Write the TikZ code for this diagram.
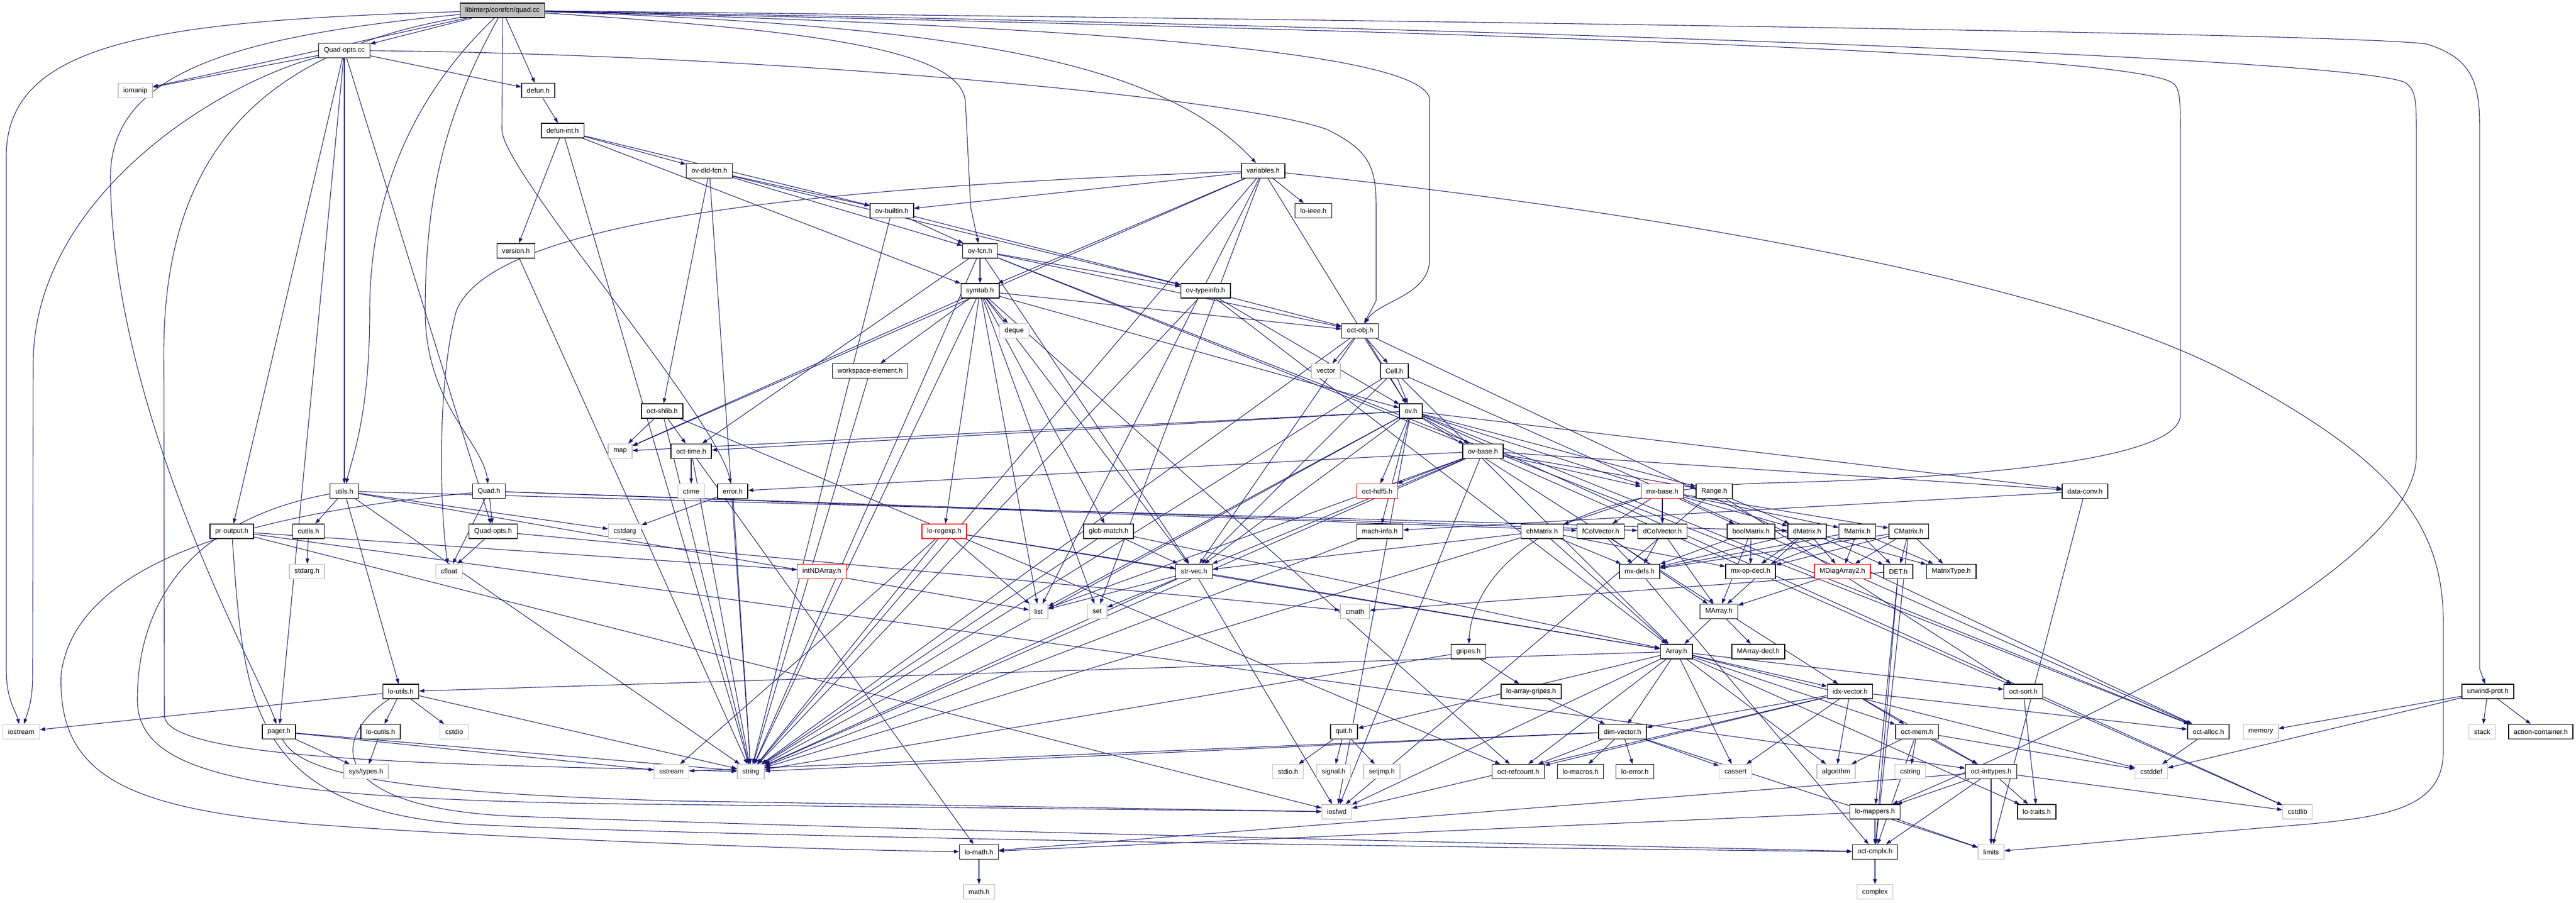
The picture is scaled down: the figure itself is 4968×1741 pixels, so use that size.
\documentclass[tikz,border=0pt]{standalone}
\usepackage{fontspec}
\setmainfont{Liberation Sans}
\usetikzlibrary{arrows.meta}
\definecolor{edgec}{HTML}{191970}
\definecolor{sysgray}{HTML}{BFBFBF}
\pgfdeclarelayer{back}
\pgfdeclarelayer{bg}
\pgfsetlayers{back,bg,main}
\newcommand\myedges[2]{\foreach \tgt in {#2}{\draw[e] (#1) -- (\tgt);}}
\tikzset{
  nd/.style={draw=black, line width=1.4pt, fill=white, minimum height=28pt, inner xsep=10pt, inner ysep=0pt, font=\fontsize{13.2pt}{15pt}\selectfont},
  sys/.style={nd, draw=sysgray},
  rnd/.style={nd, draw=red},
  rootnd/.style={nd, fill=sysgray},
  e/.style={draw=edgec, line width=1.1pt, -{Triangle[length=10pt,width=7pt]}}
}
\begin{document}
\begin{tikzpicture}[x=1pt,y=-1pt]
\useasboundingbox (0,0) rectangle (4968,1741);
\begin{pgfonlayer}{back}
\fill[white] (0,0) rectangle (4968,1741);
\end{pgfonlayer}
% row 0-11
\node[rootnd] (quad) at (969,20) {libinterp/corefcn/quad.cc};
\node[nd] (qoptscc) at (664,97.3) {Quad-opts.cc};
\node[sys] (iomanip) at (261,174.6) {iomanip};
\node[nd] (defun) at (1038,174.6) {defun.h};
\node[nd] (defunint) at (1085,251.9) {defun-int.h};
\node[nd] (ovdld) at (1368,329.2) {ov-dld-fcn.h};
\node[nd] (variables) at (2436,329.2) {variables.h};
\node[nd] (ovbuiltin) at (1720,406.5) {ov-builtin.h};
\node[nd] (loieee) at (2533,406.5) {lo-ieee.h};
\node[nd] (version) at (995,483.8) {version.h};
\node[nd] (ovfcn) at (1890,483.8) {ov-fcn.h};
\node[nd] (symtab) at (1890,561.1) {symtab.h};
\node[nd] (ovtypeinfo) at (2325,561.1) {ov-typeinfo.h};
\node[sys] (deque) at (1956,638.4) {deque};
\node[nd] (octobj) at (2623,638.4) {oct-obj.h};
\node[nd] (wselem) at (1678,715.7) {workspace-element.h};
\node[sys] (vector) at (2557,715.7) {vector};
\node[nd] (cell) at (2689,715.7) {Cell.h};
\node[nd] (octshlib) at (1277,793) {oct-shlib.h};
\node[nd] (ov) at (2721,793) {ov.h};
\node[sys] (map) at (1196,870.3) {map};
\node[nd] (octtime) at (1333,870.3) {oct-time.h};
\node[nd] (ovbase) at (2860,870.3) {ov-base.h};
% row 12
\node[nd] (utils) at (664,947.6) {utils.h};
\node[nd] (quadh) at (943,947.6) {Quad.h};
\node[sys] (ctime) at (1333,947.6) {ctime};
\node[nd] (error) at (1413,947.6) {error.h};
\node[rnd] (octhdf5) at (2656,947.6) {oct-hdf5.h};
\node[rnd] (mxbase) at (3206,947.6) {mx-base.h};
\node[nd] (range) at (3306,947.6) {Range.h};
\node[nd] (dataconv) at (4021,947.6) {data-conv.h};
% row 13
\node[nd] (proutput) at (447,1024.9) {pr-output.h};
\node[nd] (cutils) at (595,1024.9) {cutils.h};
\node[nd] (quadoptsh) at (951,1024.9) {Quad-opts.h};
\node[sys] (cstdarg) at (1205,1024.9) {cstdarg};
\node[rnd] (loregexp) at (1821,1024.9) {lo-regexp.h};
\node[nd] (globmatch) at (2138,1024.9) {glob-match.h};
\node[nd] (machinfo) at (2661,1024.9) {mach-info.h};
\node[nd] (chmatrix) at (2974,1024.9) {chMatrix.h};
\node[nd] (fcolvec) at (3087,1024.9) {fColVector.h};
\node[nd] (dcolvec) at (3206,1024.9) {dColVector.h};
\node[nd] (boolmat) at (3377,1024.9) {boolMatrix.h};
\node[nd] (dmatrix) at (3485,1024.9) {dMatrix.h};
\node[nd] (fmatrix) at (3582,1024.9) {fMatrix.h};
\node[nd] (cmatrix) at (3681,1024.9) {CMatrix.h};
% row 14
\node[sys] (stdargh) at (592,1102.2) {stdarg.h};
\node[sys] (cfloat) at (866,1102.2) {cfloat};
\node[rnd] (intnd) at (1585,1102.2) {intNDArray.h};
\node[nd] (strvec) at (2303,1102.2) {str-vec.h};
\node[nd] (mxdefs) at (3162,1102.2) {mx-defs.h};
\node[nd] (mxopdecl) at (3376,1102.2) {mx-op-decl.h};
\node[rnd] (mdiag) at (3553,1102.2) {MDiagArray2.h};
\node[nd] (det) at (3661,1102.2) {DET.h};
\node[nd] (matrixtype) at (3763,1102.2) {MatrixType.h};
% row 15
\node[sys] (list) at (2003,1179.5) {list};
\node[sys] (set) at (2116,1179.5) {set};
\node[sys] (cmath) at (2613,1179.5) {cmath};
\node[nd] (marray) at (3315,1179.5) {MArray.h};
% row 16
\node[nd] (gripes) at (2832,1256.8) {gripes.h};
\node[nd] (array) at (3233,1256.8) {Array.h};
\node[nd] (marraydecl) at (3391,1256.8) {MArray-decl.h};
% row 17
\node[nd] (loutils) at (773,1334.1) {lo-utils.h};
\node[nd] (loarraygripes) at (2953,1334.1) {lo-array-gripes.h};
\node[nd] (idxvec) at (3568,1334.1) {idx-vector.h};
\node[nd] (octsort) at (3902,1334.1) {oct-sort.h};
\node[nd] (unwind) at (4798,1334.1) {unwind-prot.h};
% row 18
\node[sys] (iostream) at (41,1411.4) {iostream};
\node[nd] (pager) at (538,1411.4) {pager.h};
\node[nd] (locutils) at (734,1411.4) {lo-cutils.h};
\node[sys] (cstdio) at (876,1411.4) {cstdio};
\node[nd] (quit) at (2592,1411.4) {quit.h};
\node[nd] (dimvec) at (3129,1411.4) {dim-vector.h};
\node[nd] (octmem) at (3697,1411.4) {oct-mem.h};
\node[nd] (octalloc) at (4259,1411.4) {oct-alloc.h};
\node[sys] (memory) at (4360,1411.4) {memory};
\node[sys] (stack) at (4787,1411.4) {stack};
\node[nd] (actioncont) at (4900,1411.4) {action-container.h};
% row 19
\node[sys] (systypes) at (706,1488.7) {sys/types.h};
\node[sys] (sstream) at (1295,1488.7) {sstream};
\node[sys] (string) at (1448,1488.7) {string};
\node[sys] (stdioh) at (2484,1488.7) {stdio.h};
\node[sys] (signalh) at (2572,1488.7) {signal.h};
\node[sys] (setjmp) at (2665,1488.7) {setjmp.h};
\node[nd] (octrefcount) at (2928,1488.7) {oct-refcount.h};
\node[nd] (lomacros) at (3048,1488.7) {lo-macros.h};
\node[nd] (loerror) at (3153,1488.7) {lo-error.h};
\node[sys] (cassert) at (3347,1488.7) {cassert};
\node[sys] (algorithm) at (3541,1488.7) {algorithm};
\node[sys] (cstring) at (3684,1488.7) {cstring};
\node[nd] (octinttypes) at (3840,1488.7) {oct-inttypes.h};
\node[sys] (cstddef) at (4149,1488.7) {cstddef};
% row 20
\node[sys] (iosfwd) at (2578,1566) {iosfwd};
\node[nd] (lomappers) at (3616,1566) {lo-mappers.h};
\node[nd] (lotraits) at (3928,1566) {lo-traits.h};
\node[sys] (cstdlib) at (4431,1566) {cstdlib};
% row 21
\node[nd] (lomath) at (1888,1643.3) {lo-math.h};
\node[nd] (octcmplx) at (3616,1643.3) {oct-cmplx.h};
\node[sys] (limits) at (3840,1643.3) {limits};
% row 22
\node[sys] (mathh) at (1888,1720.6) {math.h};
\node[sys] (complex) at (3616,1720.6) {complex};

\begin{pgfonlayer}{bg}
\myedges{quad}{qoptscc,iomanip,defun}
\myedges{qoptscc}{iomanip,quadoptsh,defun,proutput,utils,pager}
\myedges{defun}{defunint}
\myedges{defunint}{string,version,ovbuiltin,ovdld,symtab}
\myedges{version}{string}
\myedges{variables}{list,map,set,string,loieee,ov,ovbuiltin,symtab}
\myedges{ovdld}{string,octshlib,ovfcn,ovbuiltin,ovtypeinfo}
\myedges{ovbuiltin}{string,ovfcn,ovtypeinfo}
\myedges{ovfcn}{string,octtime,strvec,octalloc,octobj,ovbase,ovtypeinfo,symtab}
\myedges{symtab}{deque,list,map,set,string,globmatch,loregexp,octobj,wselem,octrefcount,ov,strvec}
\myedges{ovtypeinfo}{string,array,octobj,ov}
\myedges{octobj}{string,vector,octalloc,strvec,cell,ov}
\myedges{cell}{array,octalloc,strvec,ov,string}
\myedges{ov}{cstdlib,iosfwd,string,list,map,range,dataconv,idxvec,machinfo,mxbase,octalloc,octtime,strvec,octhdf5,ovbase}
\myedges{ovbase}{cstdlib,iosfwd,list,string,range,dataconv,mxbase,strvec,error,octhdf5}
\myedges{octshlib}{string,map,octtime,octrefcount}
\myedges{octtime}{ctime,string,lomath}
\myedges{error}{cstdarg,string}
\myedges{wselem}{string}
\myedges{globmatch}{string,array,strvec}
\myedges{loregexp}{list,sstream,string,array,strvec}
\myedges{strvec}{iosfwd,list,set,string,array}
\myedges{utils}{cstdarg,list,string,dmatrix,loutils,cutils}
\myedges{cutils}{stdargh}
\myedges{quadh}{cfloat,dcolvec,fcolvec,quadoptsh}
\myedges{quadoptsh}{cfloat,cmath}
\myedges{proutput}{iosfwd,intnd,octinttypes}
\myedges{pager}{sstream,string,systypes}
\myedges{locutils}{systypes}
\myedges{loutils}{cstdio,iostream,string,locutils}
\myedges{machinfo}{string}
\myedges{dataconv}{limits,machinfo}
\myedges{range}{iosfwd,dmatrix,octsort}
\myedges{mxbase}{chmatrix,fcolvec,dcolvec,boolmat,dmatrix,fmatrix,cmatrix}
\myedges{chmatrix}{string,strvec,array,mxdefs,mxopdecl}
\myedges{fcolvec}{marray,mxdefs}
\myedges{dcolvec}{marray,mxdefs}
\myedges{boolmat}{marray,mxdefs,mxopdecl}
\myedges{dmatrix}{mdiag,mxdefs,mxopdecl,det,matrixtype,marray}
\myedges{fmatrix}{mdiag,mxdefs,mxopdecl,det,matrixtype}
\myedges{cmatrix}{mdiag,mxdefs,mxopdecl,det,matrixtype,octcmplx}
\myedges{mdiag}{marray}
\myedges{det}{cmath,octcmplx,lomappers}
\myedges{marray}{array,marraydecl}
\myedges{mxdefs}{octcmplx}
\myedges{gripes}{string,loarraygripes}
\myedges{loarraygripes}{dimvec}
\myedges{array}{cassert,cstddef,algorithm,iosfwd,dimvec,idxvec,lotraits,loutils,octsort,quit,octmem,octrefcount}
\myedges{idxvec}{cassert,algorithm,iosfwd,dimvec,octinttypes,octalloc,octmem,octrefcount}
\myedges{dimvec}{cassert,limits,sstream,string,loerror,lomacros,octrefcount}
\myedges{quit}{stdioh,signalh,setjmp}
\myedges{octmem}{cstddef,cstring,algorithm,octcmplx,octinttypes}
\myedges{lomappers}{limits,octcmplx,lomath}
\myedges{octcmplx}{complex}
\myedges{lomath}{mathh}
\myedges{octinttypes}{cstdlib,limits,lotraits,lomath,octcmplx,lomappers}
\myedges{octsort}{lotraits}
\myedges{octalloc}{cstddef}
\myedges{unwind}{cstddef,memory,stack,actioncont}
% routed edges
\draw[e] (quad) .. controls (300,40) and (14,80) .. (12,300) -- (12,1290) .. controls (12,1350) and (30,1370) .. (iostream);
\draw[e] (qoptscc) .. controls (420,160) and (66,380) .. (64,700) -- (63,1300) .. controls (63,1350) and (55,1370) .. (iostream);
\draw[e] (quad) .. controls (450,70) and (215,140) .. (213,340) .. controls (215,800) and (500,1300) .. (pager);
\draw[e] (quad) .. controls (500,100) and (310,300) .. (316,700) -- (317,1380) .. controls (318,1470) and (900,1475) .. (string);
\draw[e] (quad) .. controls (870,200) and (820,350) .. (820,600) .. controls (820,780) and (930,850) .. (quadh);
\draw[e] (quad) .. controls (780,200) and (713,400) .. (713,600) .. controls (713,800) and (680,880) .. (utils);
\draw[e] (quad) -- (968,250) .. controls (968,330) and (1380,800) .. (error);
\draw[e] (quad) .. controls (1600,60) and (1860,100) .. (1862,200) -- (1872,400) -- (ovfcn);
\draw[e] (quad) .. controls (1900,50) and (2250,130) .. (variables);
\draw[e] (variables) .. controls (1600,360) and (950,420) .. (880,600) .. controls (840,750) and (850,1000) .. (cfloat);
\draw[e] (quad) .. controls (2100,50) and (2740,100) .. (2757,190) -- (2757,500) .. controls (2757,570) and (2660,580) .. (octobj);
\draw[e] (quad) .. controls (2800,40) and (4550,65) .. (4680,85) .. controls (4760,110) and (4782,150) .. (4782,240) -- (4782,1290) -- (unwind);
\draw[e] (quad) .. controls (2800,50) and (4550,110) .. (4640,160) .. controls (4658,175) and (4660,190) .. (4660,250) -- (4660,880) .. controls (4660,1100) and (4000,1400) .. (lomappers);
\draw[e] (quad) .. controls (2800,60) and (4100,100) .. (4190,160) .. controls (4203,170) and (4205,185) .. (4205,250) -- (4205,800) .. controls (4205,900) and (3700,925) .. (3400,932) .. controls (3000,945) and (2840,1100) .. (gripes);
\draw[e] (qoptscc) .. controls (1500,105) and (2400,190) .. (2560,250) .. controls (2640,290) and (2654,320) .. (2654,400) -- (2654,580) -- (octobj);
\draw[e] (variables) .. controls (3300,420) and (4000,560) .. (4300,720) .. controls (4600,880) and (4712,1000) .. (4712,1200) -- (4712,1450) .. controls (4712,1560) and (4600,1575) .. (4450,1590) .. controls (4200,1610) and (4000,1630) .. (limits);
\draw[e] (quadh) .. controls (600,980) and (150,1050) .. (118,1300) .. controls (110,1500) and (250,1560) .. (600,1590) .. controls (1000,1620) and (1600,1640) .. (lomath);
\draw[e] (proutput) .. controls (470,1350) and (480,1560) .. (900,1590) .. controls (1500,1620) and (3300,1640) .. (octcmplx);
\draw[e] (loutils) .. controls (640,1420) and (620,1560) .. (1000,1575) .. controls (2000,1610) and (3300,1635) .. (octcmplx);
\draw[e] (pager) .. controls (580,1500) and (800,1530) .. (1300,1545) -- (iosfwd);
\draw[e] (utils) .. controls (380,1000) and (265,1150) .. (265,1350) .. controls (265,1500) and (500,1545) .. (1300,1552) -- (iosfwd);
\end{pgfonlayer}
\end{tikzpicture}
\end{document}
